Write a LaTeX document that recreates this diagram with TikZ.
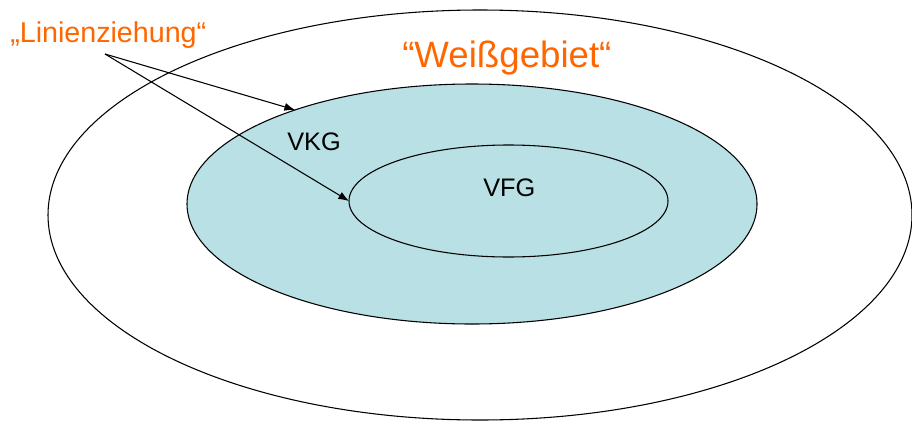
\documentclass[tikz,border=0pt]{standalone}
\usepackage{fontspec}
\setmainfont{Liberation Sans}
\usepackage{tikz}
\usetikzlibrary{shapes.geometric,arrows.meta}
\definecolor{zonefill}{RGB}{185,224,228}
\definecolor{notecolor}{RGB}{255,102,0}

\begin{document}
\begin{tikzpicture}[x=0.75pt,y=-0.75pt,
    zone/.style={draw=black,line width=0.8pt,ellipse,inner sep=0pt,outer sep=0pt},
    note/.style={text=notecolor,inner sep=0pt,anchor=base west},
    tag/.style={inner sep=0pt,anchor=base west,font=\fontsize{19}{21}\selectfont},
    pointer/.style={-{Latex[length=8pt,width=6pt]},line width=0.8pt}]
  \useasboundingbox (0,0) rectangle (912,421);
  % zones
  \node[zone,minimum width=648pt,minimum height=307.5pt] (outer) at (480,215) {};
  \node[zone,fill=zonefill,minimum width=427.5pt,minimum height=180pt] (vkgzone) at (472,204) {};
  \node[zone,fill=zonefill,minimum width=239.25pt,minimum height=84pt] (vfgzone) at (508.5,201) {};
  % labels
  \node[tag] (vkg) at (287,150) {VKG};
  \node[tag] (vfg) at (483,196) {VFG};
  \node[note,font=\fontsize{21.5}{23}\selectfont] (linien) at (10,42) {„Linienziehung“};
  \node[note,font=\fontsize{27.5}{30}\selectfont] (weiss) at (402,67) {“Weißgebiet“};
  % arrows
  \coordinate (fork) at (105,54);
  \draw[pointer] (fork) -- (vkgzone.152);
  \draw[pointer] (fork) -- (vfgzone.180);
\end{tikzpicture}
\end{document}
